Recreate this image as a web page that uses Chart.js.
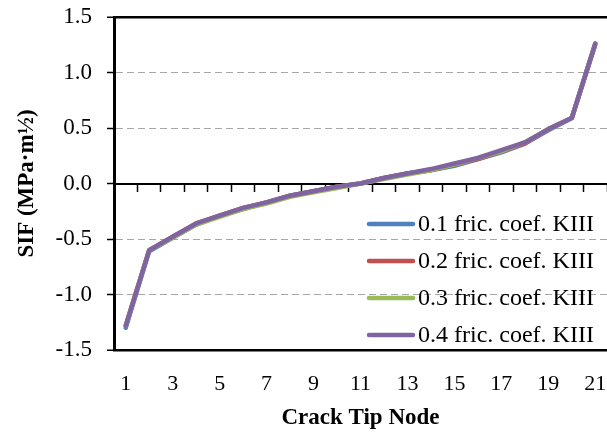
<!DOCTYPE html>
<html>
<head>
<meta charset="utf-8">
<script src="https://cdn.jsdelivr.net/npm/chart.js@4"></script>
<style>
html,body{margin:0;padding:0;background:#fff;overflow:hidden;}
#wrap{width:607px;height:432px;}
</style>
</head>
<body>
<div id="wrap"><canvas id="c" width="607" height="432"></canvas></div>
<script>
// ---- data ----
const nodes = ['1','2','3','4','5','6','7','8','9','10','11','12','13','14','15','16','17','18','19','20','21'];
const seriesNames = ['0.1 fric. coef. KIII','0.2 fric. coef. KIII','0.3 fric. coef. KIII','0.4 fric. coef. KIII'];
const kiii01 = [-1.30,-0.61,-0.49,-0.37,-0.29,-0.23,-0.17,-0.11,-0.07,-0.03,0.00,0.05,0.09,0.12,0.16,0.22,0.28,0.36,0.48,0.59,1.25];
const kiii02 = [-1.28,-0.60,-0.48,-0.36,-0.29,-0.22,-0.17,-0.11,-0.07,-0.03,0.00,0.05,0.09,0.12,0.17,0.22,0.29,0.36,0.49,0.59,1.26];
const kiii03 = [-1.28,-0.60,-0.49,-0.37,-0.30,-0.23,-0.18,-0.12,-0.08,-0.04,0.00,0.04,0.08,0.12,0.17,0.23,0.29,0.37,0.49,0.59,1.26];
const kiii04 = [-1.28,-0.60,-0.48,-0.36,-0.29,-0.22,-0.17,-0.11,-0.07,-0.03,0.00,0.05,0.09,0.13,0.18,0.23,0.30,0.37,0.49,0.59,1.26];
const yMin = -1.5, yMax = 1.5, yStep = 0.5;
const colors = ['#4F81BD','#C0504D','#9BBB59','#8064A2'];

const serif = '"Liberation Serif","Times New Roman",serif';
const allSeries = [kiii01,kiii02,kiii03,kiii04];

const legendPlugin = {
  id: 'insideLegend',
  afterDraw(chart) {
    const ctx = chart.ctx;
    ctx.save();
    ctx.font = '24px ' + serif;
    ctx.textBaseline = 'middle';
    ctx.textAlign = 'left';
    chart.data.datasets.forEach((ds, i) => {
      const y = 224 + 37 * i;
      ctx.strokeStyle = ds.borderColor;
      ctx.lineWidth = 4.5;
      ctx.lineCap = 'round';
      ctx.beginPath();
      ctx.moveTo(369, y);
      ctx.lineTo(413, y);
      ctx.stroke();
      ctx.fillStyle = '#000';
      ctx.fillText(ds.label, 418, y + 1);
    });
    ctx.restore();
  }
};

new Chart(document.getElementById('c'), {
  type: 'line',
  data: {
    labels: nodes,
    datasets: allSeries.map((d, i) => ({
      label: seriesNames[i],
      data: d,
      order: allSeries.length - i,
      borderColor: colors[i],
      backgroundColor: colors[i],
      borderWidth: 4.5,
      pointRadius: 0,
      tension: 0,
      fill: false,
      borderCapStyle: 'round',
      borderJoinStyle: 'round'
    }))
  },
  options: {
    responsive: false,
    animation: false,
    layout: { padding: { left: 0, right: 0, top: 17, bottom: 0 } },
    plugins: { legend: { display: false }, tooltip: { enabled: false } },
    scales: {
      x: {
        type: 'category',
        position: { y: 0 },
        offset: true,
        grid: { display: true, drawOnChartArea: false, offset: true, drawTicks: true, tickLength: 7, tickColor: '#000', tickWidth: 1.5 },
        border: { display: true, color: '#000', width: 2 },
        ticks: { display: false }
      },
      x2: {
        type: 'category',
        position: 'bottom',
        offset: true,
        grid: { display: false, drawTicks: false },
        border: { display: false },
        ticks: {
          autoSkip: false, maxRotation: 0, padding: 21, color: '#000',
          font: { family: serif, size: 22 },
          callback: function (v, i) { return i % 2 === 0 ? this.getLabelForValue(v) : ''; }
        },
        title: { display: true, text: 'Crack Tip Node', color: '#000', font: { family: serif, size: 23, weight: 'bold' }, padding: { top: 0, bottom: 0 } },
        afterFit(s) { s.height = 82; s.paddingLeft = 0; s.paddingRight = 0; }
      },
      y: {
        min: yMin, max: yMax,
        ticks: {
          stepSize: yStep, padding: 15, color: '#000',
          font: { family: serif, size: 23 },
          callback: v => Number(v).toFixed(1)
        },
        grid: {
          color: c => (Math.abs(c.tick.value) > 1.49 ? '#000' : (Math.abs(c.tick.value) < 0.01 ? 'rgba(0,0,0,0)' : '#A6A6A6')),
          lineWidth: c => (Math.abs(c.tick.value) > 1.49 ? 2.5 : 1),
          tickColor: '#000', tickLength: 7, tickWidth: 1.5
        },
        border: {
          display: true, color: '#000', width: 3,
          dash: c => (Math.abs(c.tick.value) > 1.49 ? [] : [7, 4])
        },
        title: { display: true, text: 'SIF (MPa·m½)', color: '#000', font: { family: serif, size: 23, weight: 'bold' }, padding: { top: 13, bottom: 0 } },
        afterFit(s) { s.width = 114; s.paddingTop = 0; s.paddingBottom = 0; }
      }
    }
  },
  plugins: [legendPlugin]
});
</script>
</body>
</html>
